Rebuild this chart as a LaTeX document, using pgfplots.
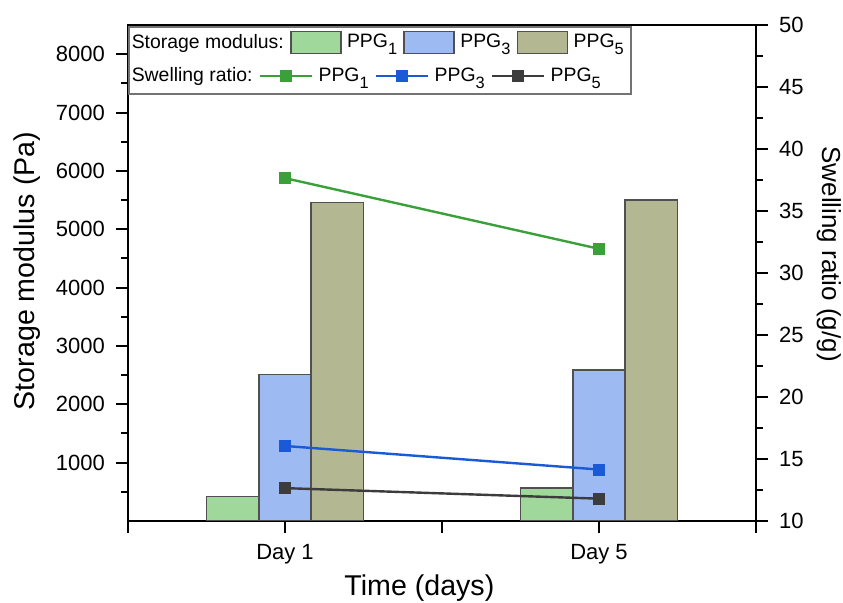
\documentclass[border=0pt]{standalone}
\usepackage{fontspec}
\setmainfont{Liberation Sans}
\usepackage{pgfplots}
\pgfplotsset{compat=1.18}
\definecolor{gbar}{RGB}{160,216,155}
\definecolor{bbar}{RGB}{157,187,242}
\definecolor{obar}{RGB}{179,184,147}
\definecolor{edge}{RGB}{80,80,80}
\definecolor{gline}{RGB}{58,160,58}
\definecolor{bline}{RGB}{26,90,215}
\definecolor{kline}{RGB}{60,60,60}
\newcommand\sub[1]{\raisebox{-3.5pt}{\fontsize{8.2}{9}\selectfont #1}}
\pgfplotsset{
  common/.style={
    scale only axis, width=314pt, height=248pt,
    xmin=0.5, xmax=2.5,
    tick align=outside, major tick length=6pt, minor tick length=3.5pt,
    every tick/.style={black, line width=1pt},
    axis line style={line width=1.2pt},
    /pgf/number format/assume math mode=true,
    /pgf/number format/1000 sep={},
    ticklabel style={font=\fontsize{11}{13}\selectfont},
    legend columns=-1,
    legend cell align=left,
    legend style={draw=none, fill=none, inner sep=0pt, outer sep=0pt,
      font=\fontsize{9.7}{11}\selectfont, nodes={inner sep=0.5pt}, column sep=0pt,
      /tikz/every odd column/.append style={column sep=2.2pt},
      /tikz/every even column/.append style={column sep=2.6pt}},
  },
  barleg/.style={legend image code/.code={\draw[##1] (0pt,-5.5pt) rectangle (25pt,5.5pt);}},
  lineleg/.style={legend image code/.code={\draw[mark repeat=2,mark phase=2,##1] plot coordinates {(0pt,0pt) (13pt,0pt) (26pt,0pt)};}},
}
\begin{document}
\begin{tikzpicture}
\begin{axis}[common,
  ymin=0, ymax=8500,
  ytick={1000,2000,...,8000}, minor ytick={500,1500,...,7500},
  ytick pos=left, xtick pos=bottom,
  xtick={0.5,1,1.5,2,2.5}, xticklabels={,Day 1,,Day 5,},
  xticklabel style={yshift=-2pt},
  yticklabel style={xshift=-2pt},
  xlabel={Time (days)}, ylabel={Storage modulus (Pa)},
  every axis x label/.style={at={(axis description cs:0.464,0)}, yshift=-33.5pt, anchor=center, font=\fontsize{14.3}{17}\selectfont},
  every axis y label/.style={at={(axis description cs:-0.16,0.504)}, rotate=90, anchor=center, font=\fontsize{14.3}{17}\selectfont},
  legend style={at={(axis description cs:0,1)}, anchor=west, xshift=-0.8pt, yshift=-8.75pt},
]
\addlegendimage{empty legend}\addlegendentry{Storage modulus:\hspace{3.5pt}}
\addplot[ybar, bar width=0.16667, bar shift=-0.16667, fill=gbar, draw=edge, line width=0.8pt, forget plot] coordinates {(1,420) (2,565)};
\addplot[ybar, bar width=0.16667, bar shift=0, fill=bbar, draw=edge, line width=0.8pt, forget plot] coordinates {(1,2510) (2,2590)};
\addplot[ybar, bar width=0.16667, bar shift=0.16667, fill=obar, draw=edge, line width=0.8pt, forget plot] coordinates {(1,5460) (2,5500)};
\addlegendimage{barleg, fill=gbar, draw=edge, line width=0.8pt}\addlegendentry{PPG\sub{1}}
\addlegendimage{barleg, fill=bbar, draw=edge, line width=0.8pt}\addlegendentry{PPG\sub{3}}
\addlegendimage{barleg, fill=obar, draw=edge, line width=0.8pt}\addlegendentry{PPG\sub{5}}
\end{axis}
\begin{axis}[common,
  ymin=10, ymax=50,
  axis x line=none, axis y line*=right,
  ytick={10,15,...,50}, minor ytick={12.5,17.5,...,47.5},
  yticklabel style={xshift=2pt},
  ylabel={Swelling ratio (g/g)},
  every axis y label/.style={at={(axis description cs:1.116,0.538)}, rotate=-90, anchor=center, font=\fontsize{13}{15}\selectfont},
  legend style={at={(axis description cs:0,1)}, anchor=west, xshift=-0.8pt, yshift=-25.5pt},
]
\addlegendimage{empty legend}\addlegendentry{Swelling ratio:\hspace{3pt}}
\addplot[gline, line width=1.2pt, mark=square*, mark size=2.8pt, mark options={solid, line width=0.4pt}, forget plot] coordinates {(1,37.65) (2,31.95)};
\addplot[bline, line width=1.2pt, mark=square*, mark size=2.8pt, mark options={solid, line width=0.4pt}, forget plot] coordinates {(1,16.05) (2,14.15)};
\addplot[kline, line width=1.2pt, mark=square*, mark size=2.8pt, mark options={solid, line width=0.4pt}, forget plot] coordinates {(1,12.65) (2,11.8)};
\addlegendimage{lineleg, gline, line width=1.2pt, mark=square*, mark size=2.8pt, mark options={solid, line width=0.4pt}}\addlegendentry{PPG\sub{1}}
\addlegendimage{lineleg, bline, line width=1.2pt, mark=square*, mark size=2.8pt, mark options={solid, line width=0.4pt}}\addlegendentry{PPG\sub{3}}
\addlegendimage{lineleg, kline, line width=1.2pt, mark=square*, mark size=2.8pt, mark options={solid, line width=0.4pt}}\addlegendentry{PPG\sub{5}}
\draw[black!55, line width=0.7pt] ([xshift=0.6pt,yshift=-1pt]axis description cs:0,1) rectangle ([xshift=251.5pt,yshift=-34.5pt]axis description cs:0,1);
\end{axis}
\pgfresetboundingbox
\path[use as bounding box] (-64pt,-41pt) rectangle (357.5pt,260.5pt);
\end{tikzpicture}
\end{document}
